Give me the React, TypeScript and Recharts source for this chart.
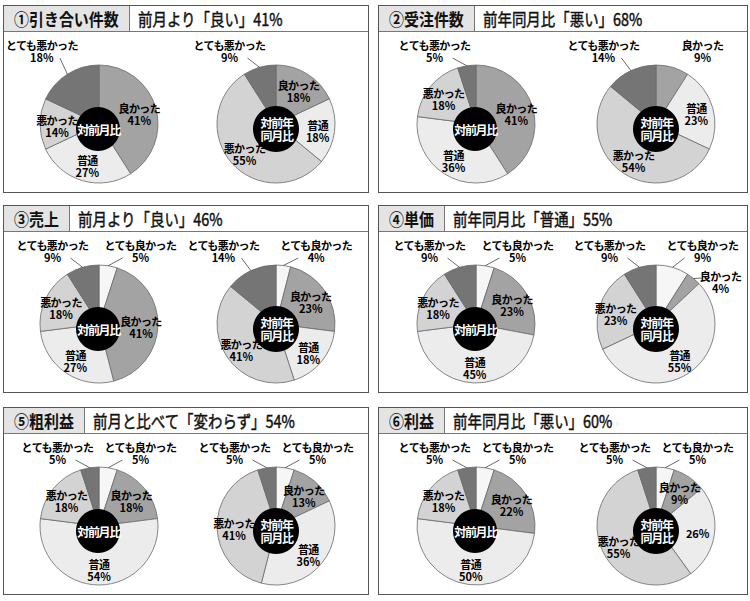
import React from 'react';
import { PieChart, Pie, Cell } from 'recharts';

// ---- data ----
const CATEGORIES = ['とても良かった', '良かった', '普通', '悪かった', 'とても悪かった'];

const p1Month = [0, 41, 27, 14, 18];
const p1Year = [0, 18, 18, 55, 9];
const p2Month = [0, 41, 36, 18, 5];
const p2Year = [0, 9, 23, 54, 14];
const p3Month = [5, 41, 27, 18, 9];
const p3Year = [4, 23, 18, 41, 14];
const p4Month = [5, 23, 45, 18, 9];
const p4Year = [9, 4, 55, 23, 9];
const p5Month = [5, 18, 54, 18, 5];
const p5Year = [5, 13, 36, 41, 5];
const p6Month = [5, 22, 50, 18, 5];
const p6Year = [5, 9, 26, 55, 5];

const PANEL_LABELS = ['①引き合い件数', '②受注件数', '③売上', '④単価', '⑤粗利益', '⑥利益'];
const PANEL_TITLES = [
  '前月より「良い」41%',
  '前年同月比「悪い」68%',
  '前月より「良い」46%',
  '前年同月比「普通」55%',
  '前月と比べて「変わらず」54%',
  '前年同月比「悪い」60%',
];
const MONTH_SERIES = [p1Month, p2Month, p3Month, p4Month, p5Month, p6Month];
const YEAR_SERIES = [p1Year, p2Year, p3Year, p4Year, p5Year, p6Year];
// category names not printed beside the percentage (year pies)
const YEAR_HIDDEN_NAMES = [[], [], [], [], [], ['普通']];

const CENTER_MONTH = ['対前月比'];
const CENTER_YEAR = ['対前年', '同月比'];

// ---- styles ----
const SLICE_COLORS = ['#f6f6f6', '#a3a3a3', '#ececec', '#d3d3d3', '#757575'];
const FONT = '"Noto Sans CJK JP", "Noto Sans", sans-serif';
const RAD = Math.PI / 180;
const R = 59;
const CY = 119;
const LINE_GAP = 12;
const NO_MARGIN = { top: 0, right: 0, bottom: 0, left: 0 };

type Slice = { name: string; value: number; cat: number; showName: boolean };

function buildSlices(values: number[], hidden: string[]): Slice[] {
  return CATEGORIES.map((name, i) => ({ name, value: values[i], cat: i, showName: !hidden.includes(name) })).filter(
    (d) => d.value > 0
  );
}

function makeSliceLabel(data: Slice[], cx: number, cy: number) {
  return (props: any) => {
    const d = data[props.index];
    if (!d) return null;
    const mid = props.midAngle as number;
    const norm = ((mid % 360) + 360) % 360;
    const cos = Math.cos(mid * RAD);
    const sin = Math.sin(mid * RAD);
    const ex = cx + cos * R;
    const ey = cy - sin * R;
    const nearTop = Math.abs(90 - norm) < 25;
    const isVery = d.name.startsWith('とても');
    const outsideTop = isVery || (props.index === 0 && d.value < 10) || (d.value < 5 && nearTop);
    const outsideSide = !outsideTop && d.value < 5;
    const sign = cos >= 0 ? 1 : -1;
    let lx: number;
    let ly: number;
    let line: number[] | null = null;
    if (outsideTop) {
      lx = cx + cos * R * 0.7 + sign * 35;
      ly = cy - R - 14;
      if (isVery) line = [lx - sign * 18, ly + 7, ex, ey];
    } else if (outsideSide) {
      lx = ex + sign * 27;
      ly = ey + 3.5;
      line = [ex, ey, lx - sign * 19, ly - 4];
    } else {
      lx = cx + cos * 42;
      ly = cy - sin * 42 + 2;
    }
    const pct = `${d.value}%`;
    return (
      <g>
        {line && <line x1={line[0]} y1={line[1]} x2={line[2]} y2={line[3]} stroke="#444" strokeWidth={0.8} />}
        <text
          x={lx}
          y={d.showName ? ly - LINE_GAP / 2 : ly}
          textAnchor="middle"
          dominantBaseline="central"
          fontFamily={FONT}
          fontSize={11}
          fontWeight={700}
          fill="#000"
        >
          {d.showName && (
            <tspan x={lx} letterSpacing={-0.6}>
              {d.name}
            </tspan>
          )}
          <tspan x={lx} dy={d.showName ? LINE_GAP : 0} letterSpacing={0}>
            {pct}
          </tspan>
        </text>
      </g>
    );
  };
}

function makeCenterLabel(cx: number, cy: number, textLines: string[]) {
  return () => {
    const n = textLines.length;
    const gap = 12.5;
    return (
      <text
        x={cx + 0.6}
        y={cy - 0.5 - ((n - 1) / 2) * gap}
        textAnchor="middle"
        dominantBaseline="central"
        fontFamily={FONT}
        fontSize={12}
        fontWeight={700}
        letterSpacing={-1.3}
        fill="#fff"
      >
        {textLines.map((t, i) => (
          <tspan key={i} x={cx + 0.6} dy={i === 0 ? 0 : gap}>
            {t}
          </tspan>
        ))}
      </text>
    );
  };
}

function estWidth(s: string, em: number) {
  let w = 0;
  for (const ch of s) {
    const c = ch.codePointAt(0) || 0;
    if (c > 0x2000) w += 1;
    else if (ch >= '0' && ch <= '9') w += 0.57;
    else if (ch === '%') w += 0.88;
    else w += 0.6;
  }
  return w * em;
}

function Panel({ idx, x, y, w, h, leftCx, rightCx }: any) {
  const monthData = buildSlices(MONTH_SERIES[idx], []);
  const yearData = buildSlices(YEAR_SERIES[idx], YEAR_HIDDEN_NAMES[idx]);
  const labelScale = 0.88;
  const titleScale = 0.85;
  const boxW = Math.round(estWidth(PANEL_LABELS[idx], 17 * labelScale) + 20);
  const bcy = CY + 5;
  return (
    <div
      style={{
        position: 'absolute',
        left: x,
        top: y,
        width: w,
        height: h,
        border: '1.5px solid #555',
        boxSizing: 'border-box',
        background: '#fff',
      }}
    >
      <div style={{ position: 'absolute', left: -1.5, top: -1.5, width: w, height: h }}>
        <PieChart width={w} height={h} margin={NO_MARGIN}>
          <Pie
            data={monthData}
            dataKey="value"
            nameKey="name"
            cx={leftCx}
            cy={CY}
            outerRadius={R}
            startAngle={90}
            endAngle={-270}
            stroke="#6a6a6a"
            strokeWidth={0.8}
            isAnimationActive={false}
            label={makeSliceLabel(monthData, leftCx, CY)}
            labelLine={false}
          >
            {monthData.map((d, i) => (
              <Cell key={i} fill={SLICE_COLORS[d.cat]} />
            ))}
          </Pie>
          <Pie
            data={yearData}
            dataKey="value"
            nameKey="name"
            cx={rightCx}
            cy={CY}
            outerRadius={R}
            startAngle={90}
            endAngle={-270}
            stroke="#6a6a6a"
            strokeWidth={0.8}
            isAnimationActive={false}
            label={makeSliceLabel(yearData, rightCx, CY)}
            labelLine={false}
          >
            {yearData.map((d, i) => (
              <Cell key={i} fill={SLICE_COLORS[d.cat]} />
            ))}
          </Pie>
          <Pie
            data={[{ name: 'center', value: 1 }]}
            dataKey="value"
            cx={leftCx - 1}
            cy={bcy}
            outerRadius={22}
            fill="#000"
            stroke="none"
            isAnimationActive={false}
            label={makeCenterLabel(leftCx - 1, bcy, CENTER_MONTH)}
            labelLine={false}
          />
          <Pie
            data={[{ name: 'center', value: 1 }]}
            dataKey="value"
            cx={rightCx}
            cy={bcy}
            outerRadius={23}
            fill="#000"
            stroke="none"
            isAnimationActive={false}
            label={makeCenterLabel(rightCx, bcy, CENTER_YEAR)}
            labelLine={false}
          />
        </PieChart>
      </div>
      <div
        style={{
          position: 'absolute',
          left: 0,
          top: 0,
          right: 0,
          height: 25,
          borderBottom: '1px solid #777',
          background: '#fff',
        }}
      >
        <div
          style={{
            position: 'absolute',
            left: 0,
            top: 0,
            width: boxW,
            height: 25,
            background: '#e4e4e4',
            borderRight: '1px solid #777',
          }}
        >
          <span
            style={{
              position: 'absolute',
              left: 10,
              top: 12.5,
              whiteSpace: 'nowrap',
              fontFamily: FONT,
              fontSize: 17,
              fontWeight: 700,
              lineHeight: '20px',
              color: '#111',
              transform: `translateY(-50%) scaleX(${labelScale})`,
              transformOrigin: 'left center',
            }}
          >
            {PANEL_LABELS[idx]}
          </span>
        </div>
        <span
          style={{
            position: 'absolute',
            left: boxW + 9,
            top: 12.5,
            whiteSpace: 'nowrap',
            fontFamily: FONT,
            fontSize: 17,
            fontWeight: 400,
            lineHeight: '20px',
            color: '#111',
            WebkitTextStroke: '0.45px #111',
            transform: `translateY(-50%) scaleX(${titleScale})`,
            transformOrigin: 'left center',
          }}
        >
          {PANEL_TITLES[idx]}
        </span>
      </div>
    </div>
  );
}

const COL_X = [3, 378];
const COL_W = [366, 370];
const ROW_Y = [5, 205, 407];
const PANEL_H = 188;
const LEFT_CX = [96, 98];
const RIGHT_CX = [273, 278];

export default function App() {
  return (
    <div style={{ position: 'absolute', left: 0, top: 0, width: 750, height: 601, background: '#fff', fontFamily: FONT }}>
      {PANEL_LABELS.map((_, idx) => {
        const col = idx % 2;
        const row = Math.floor(idx / 2);
        return (
          <Panel
            key={idx}
            idx={idx}
            x={COL_X[col]}
            y={ROW_Y[row]}
            w={COL_W[col]}
            h={PANEL_H}
            leftCx={LEFT_CX[col]}
            rightCx={RIGHT_CX[col]}
          />
        );
      })}
    </div>
  );
}
